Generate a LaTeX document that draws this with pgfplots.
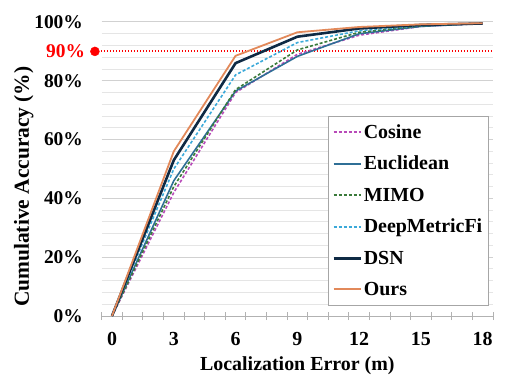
\documentclass[border=0pt]{standalone}
\usepackage{fontspec}
\setmainfont{Liberation Serif}
\usepackage{pgfplots}
\pgfplotsset{compat=1.18}
\definecolor{cCos}{HTML}{B84AB8}
\definecolor{cEuc}{HTML}{2F6F96}
\definecolor{cMimo}{HTML}{3A7A3A}
\definecolor{cDeep}{HTML}{3BA9D9}
\definecolor{cDsn}{HTML}{0F2A44}
\definecolor{cOurs}{HTML}{E2895A}
\begin{document}
\begin{tikzpicture}
\useasboundingbox (0,0) rectangle (510bp,386bp);
\begin{axis}[
  at={(101.7bp,70bp)}, anchor=south west,
  scale only axis, width=391.3bp, height=294bp,
  xmin=-0.5, xmax=18.5, ymin=0, ymax=100,
  clip=false,
  axis lines*=left,
  x axis line style={draw=black!30, line width=0.8bp, -},
  y axis line style={draw=none},
  xtick={0,3,...,18},
  xticklabels={0,3,6,9,12,15,18},
  minor xtick={-0.5,0.5,...,18.5},
  major x tick style={draw=none},
  minor x tick style={draw=black!30, line width=0.8bp},
  minor tick length=8bp,
  tick align=center,
  ytick={0,20,...,100},
  yticklabels={0\%,20\%,40\%,60\%,80\%,100\%},
  minor ytick={0,4,...,100},
  major y tick style={draw=none},
  minor y tick style={draw=none},
  ymajorgrids, yminorgrids,
  major grid style={draw=black!18, line width=1bp},
  minor grid style={draw=black!10, line width=1bp},
  extra y ticks={90},
  extra y tick labels={\textcolor{red}{90\%}},
  extra y tick style={grid=none, major tick length=0pt},
  yticklabel style={font=\fontsize{19.5}{22}\selectfont\bfseries, anchor=east, inner sep=0pt, xshift=-16.5bp},
  xticklabel style={font=\fontsize{20}{22}\selectfont\bfseries, anchor=north, inner sep=0pt, yshift=-14bp},
  xlabel={Localization Error (m)},
  ylabel={Cumulative Accuracy (\%)},
  xlabel style={font=\fontsize{20}{22}\selectfont\bfseries, at={(axis description cs:0.5,-0.170)}, anchor=center},
  ylabel style={font=\fontsize{21.5}{24}\selectfont\bfseries, at={(axis description cs:-0.199,0.44)}, anchor=center},
  legend cell align=left,
  legend image code/.code={\draw[#1] (0bp,0bp) -- (27bp,0bp);},
  legend style={at={(axis cs:10.49,68)}, anchor=north west,
    draw=black!35, fill=white,
    font=\fontsize{20}{22}\selectfont\bfseries,
    row sep=12.5bp, inner xsep=4bp, inner ysep=6bp},
]
\addplot[red, line width=2bp, dash pattern=on 1.5bp off 1.5bp, forget plot] coordinates {(-0.83,90) (18.5,90)};
\addplot[red, only marks, mark=*, mark size=4.5bp, forget plot] coordinates {(-0.83,90)};
\addplot[draw=cCos, line width=1.6bp, dash pattern=on 3bp off 2bp] coordinates {(0,0) (3,42) (6,76) (9,89) (12,95.5) (15,98.5) (18,99.5)};
\addlegendentry{Cosine}
\addplot[draw=cEuc, line width=1.6bp] coordinates {(0,0) (3,46) (6,76.5) (9,88.3) (12,96) (15,98.5) (18,99.5)};
\addlegendentry{Euclidean}
\addplot[draw=cMimo, line width=1.6bp, dash pattern=on 3bp off 2bp] coordinates {(0,0) (3,44) (6,77) (9,90.5) (12,96.5) (15,98.7) (18,99.5)};
\addlegendentry{MIMO}
\addplot[draw=cDeep, line width=1.6bp, dash pattern=on 3bp off 2bp] coordinates {(0,0) (3,50) (6,82) (9,93) (12,97) (15,98.8) (18,99.5)};
\addlegendentry{DeepMetricFi}
\addplot[draw=cDsn, line width=2.6bp] coordinates {(0,0) (3,53) (6,86) (9,95) (12,97.8) (15,99) (18,99.5)};
\addlegendentry{DSN}
\addplot[draw=cOurs, line width=1.8bp] coordinates {(0,0) (3,56) (6,88.5) (9,96.5) (12,98.3) (15,99.2) (18,99.6)};
\addlegendentry{Ours}
\end{axis}
\end{tikzpicture}
\end{document}
